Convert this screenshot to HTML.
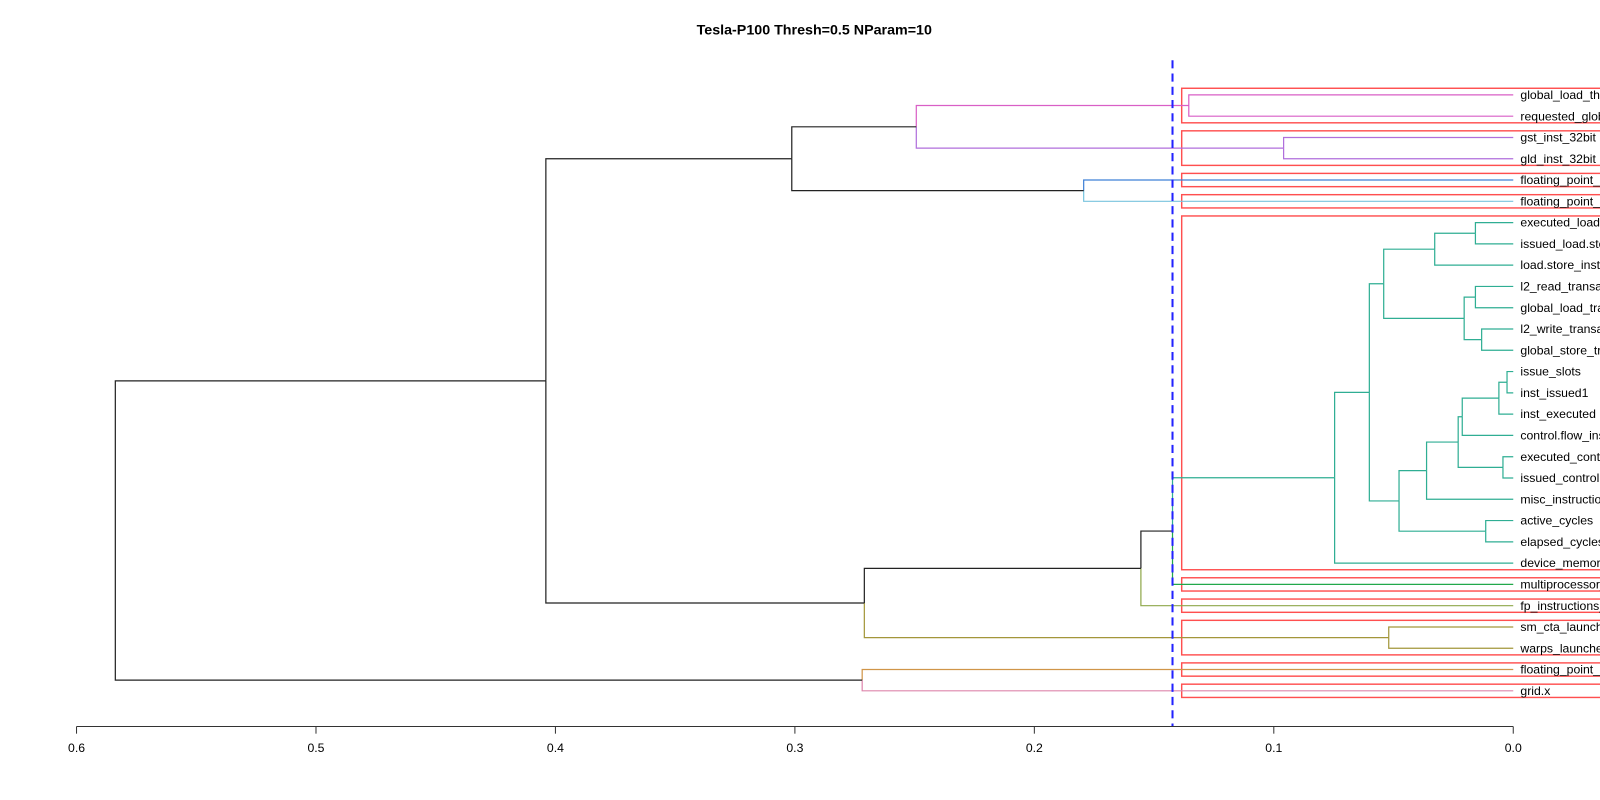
<!DOCTYPE html>
<html><head><meta charset="utf-8"><style>
html,body{margin:0;padding:0;background:#fff;width:1600px;height:800px;overflow:hidden}
svg{font-family:"Liberation Sans",sans-serif}
</style></head><body>
<svg id="chart" width="1600" height="800" viewBox="0 0 1600 800">
<g transform="scale(1.0204)">
<text x="798" y="34" text-anchor="middle" font-size="14" font-weight="bold">Tesla-P100 Thresh=0.5 NParam=10</text>
<g id="boxes"></g><g id="edges"></g><g id="labels"></g><g id="axis"></g>
</g>
</svg>
<script>
const leafNames = ["global_load_throughput","requested_global_load_throughput","gst_inst_32bit","gld_inst_32bit","floating_point_operations_single","floating_point_operations_double","executed_load.store_instructions","issued_load.store_instructions","load.store_instructions","l2_read_transactions","global_load_transactions","l2_write_transactions","global_store_transactions","issue_slots","inst_issued1","inst_executed","control.flow_instructions","executed_control.flow_instructions","issued_control.flow_instructions","misc_instructions","active_cycles","elapsed_cycles_sm","device_memory_read_transactions","multiprocessor_activity","fp_instructions_single","sm_cta_launched","warps_launched","floating_point_operations_half","grid.x"];
const leafGroup = [0,0,1,1,2,3,4,4,4,4,4,4,4,4,4,4,4,4,4,4,4,4,4,5,6,7,7,8,9];
const groupColors = ["#d95fc6","#b06fdc","#3f80d6","#79c4de","#2fae93","#22a84a","#8fa84a","#a3963a","#d09548","#de86ac"];
const mergeIds   = ["C1","C2","C","FP","B","LSp","LS","L2a","L2b","L2","T2","I6","I5","I4","ICp","I3","I2","AC","I1","T1","T","F","E","SM","D","A","G","R"];
const mergeLeft  = ["L0","L2","C1","L4","C","L6","LSp","L9","L11","L2a","LS","L13","I6","I5","L17","I4","I3","L20","I2","T2","T1","T","F","L25","E","B","L27","A"];
const mergeRight = ["L1","L3","C2","L5","FP","L7","L8","L10","L12","L2b","L2","L14","L15","L16","L18","ICp","L19","L21","AC","I1","L22","L23","L24","L26","SM","D","L28","G"];
const mergeHeight= [0.1355,0.0959,0.2493,0.1794,0.3013,0.0158,0.0328,0.0158,0.0132,0.0205,0.0541,0.0026,0.0060,0.0213,0.0043,0.0230,0.0362,0.0115,0.0477,0.0601,0.0746,0.1423,0.1555,0.0520,0.2710,0.404,0.2719,0.5838];
const axisTicks = [0.6,0.5,0.4,0.3,0.2,0.1,0.0];
const cutHeight = 0.1423;

const NS="http://www.w3.org/2000/svg";
const x0=1483, pxPerUnit=(1483-75)/0.6;
const X=h=>x0-h*pxPerUnit;
const Y=i=>93+i*(677-93)/(leafNames.length-1);
function mk(tag,attrs,parent){const e=document.createElementNS(NS,tag);for(const k in attrs)e.setAttribute(k,attrs[k]);parent.appendChild(e);return e;}
const nodes={};
leafNames.forEach((n,i)=>{nodes["L"+i]={x:X(0),y:Y(i),groups:new Set([leafGroup[i]])};});
mergeIds.forEach((id,k)=>{const a=nodes[mergeLeft[k]],b=nodes[mergeRight[k]];
  nodes[id]={x:X(mergeHeight[k]),y:(a.y+b.y)/2,groups:new Set([...a.groups,...b.groups]),kids:[a,b]};});
const gE=document.getElementById("edges");
mergeIds.forEach((id,k)=>{const p=nodes[id];
  p.kids.forEach((c,j)=>{
    const col=c.groups.size===1?groupColors[[...c.groups][0]]:"#222";
    const e=mk("path",{d:`M${p.x},${p.y}V${c.y}H${c.x}`,fill:"none",stroke:col,"stroke-width":1.2},gE);
    
    
  });
});
const gL=document.getElementById("labels");
leafNames.forEach((n,i)=>{const t=mk("text",{x:1490,y:Y(i)+4,"font-size":12,fill:"#000"},gL);t.textContent=n;
  
  });
const gB=document.getElementById("boxes");
for(let g=0;g<groupColors.length;g++){
  const idx=leafGroup.map((v,i)=>v===g?i:-1).filter(i=>i>=0);
  const top=Y(idx[0])-6.5,bot=Y(idx[idx.length-1])+6.5;
  const r=mk("rect",{x:X(cutHeight)+9,y:top,width:500,height:bot-top,fill:"none",stroke:"#ff3030","stroke-opacity":0.85,"stroke-width":1.4},gB);
  
  
}
const cl=mk("line",{x1:X(cutHeight),x2:X(cutHeight),y1:59,y2:712,stroke:"#2222ff","stroke-width":2,"stroke-dasharray":"8,5"},gE);


const gA=document.getElementById("axis");
const al=mk("line",{x1:X(0.6),x2:X(0),y1:712,y2:712,stroke:"#333","stroke-width":1},gA);


axisTicks.forEach(v=>{
  const tk=mk("line",{x1:X(v),x2:X(v),y1:712,y2:719,stroke:"#333"},gA);
  
  
  const t=mk("text",{x:X(v),y:737,"font-size":12,"text-anchor":"middle"},gA);t.textContent=v.toFixed(1);
  
  
});
</script>
</body></html>
